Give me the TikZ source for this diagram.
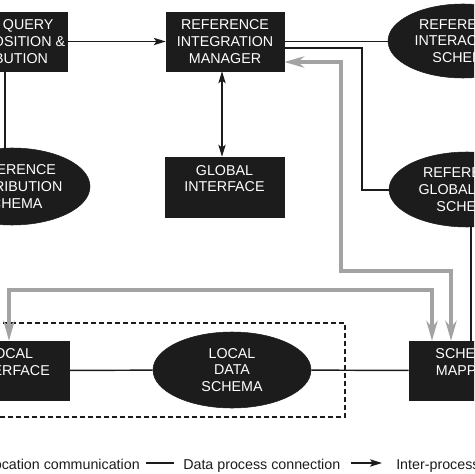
\documentclass[tikz,border=0pt]{standalone}
\usepackage{fontspec}
\setmainfont{Liberation Sans}
\usetikzlibrary{shapes.geometric,arrows.meta,calc}
\definecolor{boxfill}{HTML}{1C1C1C}
\definecolor{pipegray}{HTML}{A3A3A3}
\begin{document}
\begin{tikzpicture}[x=0.75pt,y=-0.75pt,
  txt/.style={font=\fontsize{10.7}{12.5}\selectfont, text=white, align=center},
  blk/.style={txt, rectangle, fill=boxfill, draw=boxfill, inner sep=2pt, minimum height=44.25pt},
  ell/.style={txt, ellipse, fill=boxfill, draw=boxfill, inner sep=0pt},
  conn/.style={line width=1.1pt, draw=boxfill},
  tip/.style={-{Stealth[length=9pt,width=5.5pt,inset=2pt]}},
  dtip/.style={{Stealth[length=9pt,width=5.5pt,inset=2pt]}-{Stealth[length=9pt,width=5.5pt,inset=2pt]}},
  pipe/.style={line width=3pt, draw=pipegray, {Stealth[length=15pt,width=8.5pt,inset=5pt]}-{Stealth[length=15pt,width=8.5pt,inset=5pt]}},
  legend/.style={font=\fontsize{10.7}{12.5}\selectfont, text=boxfill, inner sep=0pt}
]
\useasboundingbox (0,0) rectangle (474,474);
\clip (0,0) rectangle (474,474);

% dashed local site frame
\draw[line width=0.8pt, draw=boxfill, dash pattern=on 3.5pt off 2.5pt] (-10,323) rectangle (345,417);

% nodes
\node[blk, anchor=east, minimum width=96pt] (gqd) at (68,41.5) {GLOBAL QUERY\\DECOMPOSITION \&\\DISTRIBUTION};
\node[blk, minimum width=88.5pt] (rim) at (225,41.5) {REFERENCE\\INTEGRATION\\MANAGER};
\node[blk, minimum width=89pt, minimum height=45pt] (gi) at (224.5,187) {GLOBAL\\INTERFACE\\\mbox{}};
\node[ell, minimum width=112.5pt, minimum height=55.5pt] (ris) at (463,41) {REFERENCE\\INTERACTION\\SCHEMA};
\node[ell, minimum width=117pt, minimum height=56.25pt] (rgs) at (467,189.5) {REFERENCE\\GLOBAL DATA\\SCHEMA};
\node[ell, minimum width=117pt, minimum height=57.75pt] (rds) at (12,186.5) {REFERENCE\\DISTRIBUTION\\SCHEMA};
\node[blk, anchor=east, minimum width=90pt] (li) at (70,370.5) {LOCAL\\INTERFACE\\\mbox{}};
\node[ell, minimum width=118.5pt, minimum height=57pt] (lds) at (232,370) {LOCAL\\DATA\\SCHEMA};
\node[blk, minimum width=85.5pt] (sm) at (466,370.5) {SCHEMA\\MAPPER\\\mbox{}};

% helper coordinates
\coordinate (vx) at (5,0);
\coordinate (bend) at (362,190);
\coordinate (ga1) at (341,271);
\coordinate (ga2) at (451,271);
\coordinate (gb1) at (9,290);
\coordinate (gb2) at (432,290);
\coordinate (bx) at (471,0);

% black data-process connections
\draw[conn, tip] (gqd.east) -- (rim.west);
\draw[conn] (gqd.south -| vx) -- (rds.north -| vx);
\draw[conn, dtip] ([xshift=-2.25pt]rim.south) -- ([xshift=-2.25pt]rim.south |- gi.north);
\draw[conn] (rim.east) -- (rim.east -| ris.west);
\draw[conn] ([yshift=-4.875pt]rim.east) -| (bend) -- (bend -| rgs.west);
\draw[draw=boxfill, line width=2pt] (rgs.south -| bx) -- (sm.north -| bx);
\draw[conn] (li) -- (lds);
\draw[conn] (lds) -- (sm);

% gray inter-location communication
\draw[pipe] ([yshift=-15.375pt]rim.east) -| (ga1) -- (ga2) -- (ga2 |- sm.north);
\draw[pipe] (gb1 |- li.north) -- (gb1) -- (gb2) -- (gb2 |- sm.north);

% legend
\node[legend, anchor=base east] (lg1) at (140,469.3) {Inter-location communication};
\node[legend, anchor=base west] (lg2) at (183,469.3) {Data process connection};
\node[legend, anchor=base west] (lg3) at (396,469.3) {Inter-process communication};
\coordinate (l1a) at (146,463);
\coordinate (l1b) at (174,463);
\coordinate (l2a) at (351,463);
\coordinate (l2b) at (382,463);
\draw[conn] (l1a) -- (l1b);
\draw[conn, tip] (l2a) -- (l2b);
\end{tikzpicture}
\end{document}
